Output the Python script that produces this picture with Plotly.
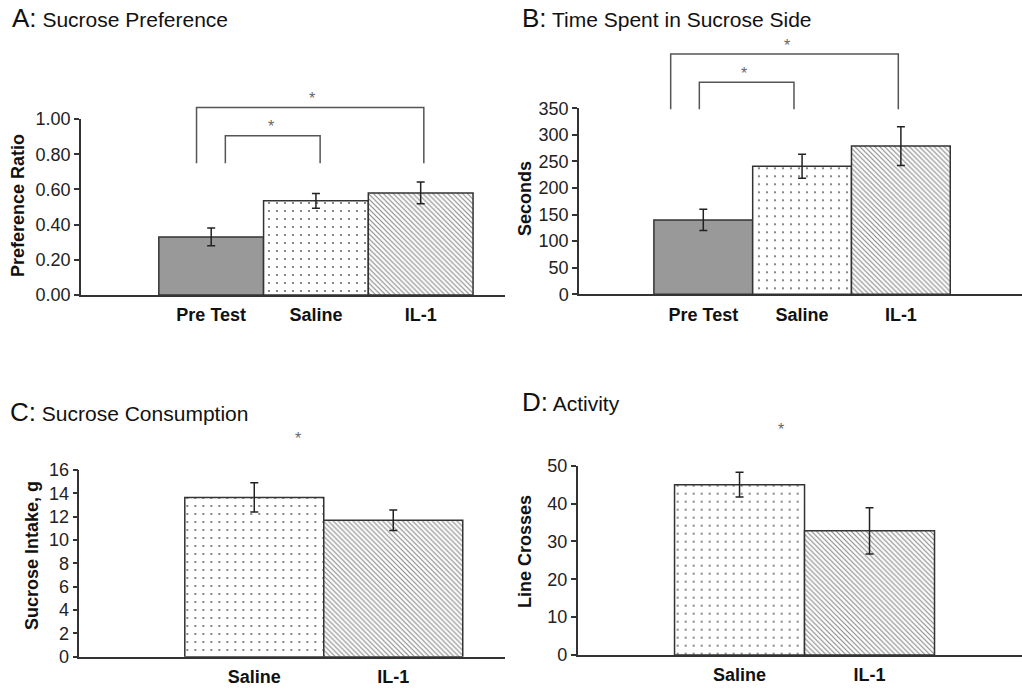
import plotly.graph_objects as go

W, H = 1022, 691

# ---------------- data ----------------
a_cats = ["Pre Test", "Saline", "IL-1"]
a_vals = [0.33, 0.535, 0.58]
a_errs = [0.05, 0.042, 0.062]

b_cats = ["Pre Test", "Saline", "IL-1"]
b_vals = [140, 241, 279]
b_errs = [20, 22.5, 36.5]

c_cats = ["Saline", "IL-1"]
c_vals = [13.65, 11.7]
c_errs = [1.25, 0.88]

d_cats = ["Saline", "IL-1"]
d_vals = [45.0, 32.8]
d_errs = [3.3, 6.1]

# significance brackets: (x_left, x_right, y_top, y_bottom) in data units
a_brackets = [(-0.14, 2.03, 1.066, 0.748), (0.135, 1.04, 0.905, 0.748)]
b_brackets = [(-0.33, 1.974, 452, 348), (-0.04, 0.918, 399, 348)]
# stars: (x, y) in data units
a_stars = [(0.967, 1.115), (0.573, 0.955)]
b_stars = [(0.844, 468), (0.415, 416)]
c_stars = [(0.312, 18.7)]
d_stars = [(0.317, 59.5)]

titles = ["Sucrose Preference", "Time Spent in Sucrose Side",
          "Sucrose Consumption", "Activity"]
letters = ["A:", "B:", "C:", "D:"]
ytitles = ["Preference Ratio", "Seconds", "Sucrose Intake, g", "Line Crosses"]

# ---------------- styling ----------------
FONT = "Liberation Sans, Arial, Helvetica, sans-serif"
style = {
    "Pre Test": dict(color="#999999", pattern=None),
    "Saline": dict(color="#ffffff",
                   pattern=dict(shape=".", fgcolor="#707070", bgcolor="#ffffff",
                                size=8, solidity=0.06, fillmode="replace")),
    "IL-1": dict(color="#ffffff",
                 pattern=dict(shape="\\", fgcolor="#8a8a8a", bgcolor="#ffffff",
                              size=3.5, solidity=0.33, fillmode="replace")),
}

panels = [
    dict(cats=a_cats, vals=a_vals, errs=a_errs, brackets=a_brackets, stars=a_stars,
         xr=[-1.243, 2.805], px_x=[81, 505], px_y=[119, 295], yr=[0, 1.0], dtick=0.2,
         fmt=".2f", title_px=(10, 18), ytitle_px=(18, 206)),
    dict(cats=b_cats, vals=b_vals, errs=b_errs, brackets=b_brackets, stars=b_stars,
         xr=[-1.258, 3.226], px_x=[579, 1022], px_y=[108.3, 294.3], yr=[0, 350], dtick=50,
         fmt="d", title_px=(520, 18), ytitle_px=(525, 199)),
    dict(cats=c_cats, vals=c_vals, errs=c_errs, brackets=[], stars=c_stars,
         xr=[-1.259, 1.804], px_x=[79.3, 505], px_y=[470, 656.7], yr=[0, 16], dtick=2,
         fmt="d", title_px=(8, 412), ytitle_px=(32, 556)),
    dict(cats=d_cats, vals=d_vals, errs=d_errs, brackets=[], stars=d_stars,
         xr=[-1.245, 2.173], px_x=[577.7, 1022], px_y=[465.7, 655], yr=[0, 50], dtick=10,
         fmt="d", title_px=(520, 402), ytitle_px=(525, 552)),
]

fig = go.Figure()
layout = dict(width=W, height=H, margin=dict(l=0, r=0, t=0, b=0, autoexpand=False),
              paper_bgcolor="white", plot_bgcolor="rgba(0,0,0,0)",
              showlegend=False, barmode="overlay",
              font=dict(family=FONT, color="#222"))
annotations = []

for i, p in enumerate(panels):
    n = i + 1
    sfx = "" if n == 1 else str(n)
    dx = [p["px_x"][0] / W, min(p["px_x"][1] / W, 1.0)]
    dy = [1 - p["px_y"][1] / H, 1 - p["px_y"][0] / H]
    xs = list(range(len(p["cats"])))
    for k, cat in enumerate(p["cats"]):
        st = style[cat]
        marker = dict(color=st["color"], line=dict(color="#333333", width=1.5))
        if st["pattern"]:
            marker["pattern"] = st["pattern"]
        fig.add_trace(go.Bar(
            x=[xs[k]], y=[p["vals"][k]], width=1.0, name=cat,
            xaxis="x" + sfx, yaxis="y" + sfx, marker=marker,
            error_y=dict(type="data", array=[p["errs"][k]], color="#222222",
                         thickness=1.5, width=4),
        ))
    layout["xaxis" + sfx] = dict(
        domain=dx, range=p["xr"], anchor="y" + sfx,
        showline=True, linecolor="#333333", linewidth=1.5,
        showgrid=False, zeroline=False, ticks="",
        tickvals=xs, ticktext=p["cats"],
        tickfont=dict(family=FONT, size=18, color="#111", weight="bold"),
        ticklabelstandoff=3, fixedrange=True,
    )
    layout["yaxis" + sfx] = dict(
        domain=dy, range=p["yr"], anchor="x" + sfx,
        showline=True, linecolor="#333333", linewidth=1.5,
        showgrid=False, zeroline=False, ticks="outside", ticklen=5,
        tickcolor="#333333", tickwidth=1.5, dtick=p["dtick"], tick0=0,
        tickformat=p["fmt"], tickfont=dict(family=FONT, size=18, color="#222"),
        fixedrange=True,
    )
    # invisible taller axes sharing the same scale, used for brackets and stars
    m = n + 4
    top = 1.0
    scale = (top - dy[0]) / (dy[1] - dy[0])
    layout["xaxis%d" % m] = dict(domain=dx, range=p["xr"], anchor="y%d" % m,
                                 visible=False, fixedrange=True)
    layout["yaxis%d" % m] = dict(domain=[dy[0], top], range=[p["yr"][0], p["yr"][1] * scale],
                                 anchor="x%d" % m, visible=False, fixedrange=True)
    for (xl, xr_, yt, yb) in p["brackets"]:
        fig.add_trace(go.Scatter(
            x=[xl, xl, xr_, xr_], y=[yb, yt, yt, yb], mode="lines",
            line=dict(color="#555555", width=1.5),
            xaxis="x%d" % m, yaxis="y%d" % m, hoverinfo="skip",
        ))
    for (sx, sy) in p["stars"]:
        annotations.append(dict(x=sx, y=sy, xref="x%d" % m, yref="y%d" % m,
                                text="*", showarrow=False, yanchor="middle",
                                font=dict(family=FONT, size=16, color="#666666")))
    tx, ty = p["title_px"]
    annotations.append(dict(
        x=tx / W, y=1 - ty / H, xref="paper", yref="paper", xanchor="left", yanchor="middle",
        text="<span style='font-size:26px'>%s</span> %s" % (letters[i], titles[i]),
        showarrow=False, font=dict(family=FONT, size=21, color="#111")))
    yx, yy = p["ytitle_px"]
    annotations.append(dict(
        x=yx / W, y=1 - yy / H, xref="paper", yref="paper", xanchor="center", yanchor="middle",
        text="<b>%s</b>" % ytitles[i], textangle=-90, showarrow=False,
        font=dict(family=FONT, size=18, color="#111")))

layout["annotations"] = annotations
fig.update_layout(**layout)
fig.write_html("out.html", config={"displayModeBar": False},
               post_script="document.body.style.margin='0';document.body.style.overflow='hidden';")
